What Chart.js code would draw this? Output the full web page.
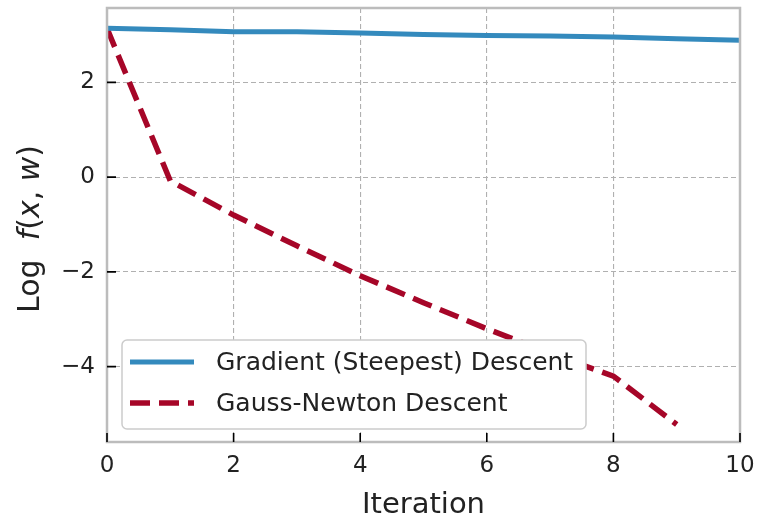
<!DOCTYPE html>
<html>
<head>
<meta charset="utf-8">
<script src="https://cdn.jsdelivr.net/npm/chart.js@4"></script>
<style>
  body { margin: 0; background: #fff; }
  #wrap { width: 757px; height: 520px; }
</style>
</head>
<body>
<div id="wrap"><canvas id="chart"></canvas></div>
<script>
// values
var iterations = [0, 1, 2, 3, 4, 5, 6, 7, 8, 9, 10];
var gradientDescent = [3.14, 3.11, 3.07, 3.07, 3.04, 3.01, 2.99, 2.98, 2.96, 2.92, 2.89];
var gaussNewton = [3.14, -0.08, -0.8, -1.45, -2.08, -2.65, -3.2, -3.72, -4.2, -5.22];
var xTicks = [0, 2, 4, 6, 8, 10];
var yTicks = [-4, -2, 0, 2];

var FONT = "'DejaVu Sans', sans-serif";
var BLUE = '#348ABD';
var RED = '#A60628';

function points(ys) {
    return ys.map((y, i) => ({ x: iterations[i], y: y }));
}

// frame, inward ticks, y title and legend box
var decorations = {
    id: 'decorations',
    afterDatasetsDraw(chart) {
        const ctx = chart.ctx;
        const area = chart.chartArea;
        const xs = chart.scales.x, ys = chart.scales.y;

        ctx.save();
        // frame
        ctx.strokeStyle = '#bcbcbc';
        ctx.lineWidth = 2.5;
        ctx.strokeRect(area.left, area.top, area.right - area.left, area.bottom - area.top);

        // inward ticks
        ctx.strokeStyle = '#000';
        ctx.lineWidth = 1.6;
        ctx.beginPath();
        xTicks.forEach(v => {
            const px = xs.getPixelForValue(v);
            ctx.moveTo(px, area.bottom);
            ctx.lineTo(px, area.bottom - 9);
        });
        yTicks.forEach(v => {
            const py = ys.getPixelForValue(v);
            ctx.moveTo(area.left, py);
            ctx.lineTo(area.left + 9, py);
        });
        ctx.stroke();

        // y axis title: Log f(x, w) with italic math letters
        const parts = [['Log  ', false], ['f', true], ['(', false], ['x', true], [', ', false], ['w', true], [')', false]];
        const size = 30;
        let total = 0;
        parts.forEach(p => {
            ctx.font = (p[1] ? 'italic ' : '') + size + 'px ' + FONT;
            total += ctx.measureText(p[0]).width;
        });
        ctx.translate(31, (area.top + area.bottom) / 2 + 4);
        ctx.rotate(-Math.PI / 2);
        ctx.fillStyle = '#222';
        ctx.textBaseline = 'middle';
        let cx = -total / 2;
        parts.forEach(p => {
            ctx.font = (p[1] ? 'italic ' : '') + size + 'px ' + FONT;
            ctx.fillText(p[0], cx, 0);
            cx += ctx.measureText(p[0]).width;
        });
        ctx.restore();

        // legend
        ctx.save();
        const bx = 122, by = 340, bw = 464, bh = 89;
        ctx.beginPath();
        if (ctx.roundRect) ctx.roundRect(bx, by, bw, bh, 5);
        else ctx.rect(bx, by, bw, bh);
        ctx.fillStyle = '#ffffff';
        ctx.fill();
        ctx.strokeStyle = '#cccccc';
        ctx.lineWidth = 1.5;
        ctx.stroke();

        ctx.font = '25px ' + FONT;
        ctx.textBaseline = 'middle';
        chart.data.datasets.forEach((ds, i) => {
            const ry = 362 + i * 41;
            ctx.strokeStyle = ds.borderColor;
            ctx.lineWidth = ds.borderWidth;
            ctx.setLineDash(ds.borderDash || []);
            ctx.lineCap = 'butt';
            ctx.beginPath();
            ctx.moveTo(130, ry);
            ctx.lineTo(194, ry);
            ctx.stroke();
            ctx.setLineDash([]);
            ctx.fillStyle = '#222';
            ctx.fillText(ds.label, 216, ry + 1);
        });
        ctx.restore();
    }
};

new Chart(document.getElementById('chart').getContext('2d'), {
    type: 'line',
    data: {
        datasets: [{
            label: 'Gradient (Steepest) Descent',
            data: points(gradientDescent),
            borderColor: BLUE,
            borderWidth: 5,
            pointRadius: 0,
            fill: false
        }, {
            label: 'Gauss-Newton Descent',
            data: points(gaussNewton),
            borderColor: RED,
            borderWidth: 5.5,
            borderDash: [20, 9],
            pointRadius: 0,
            fill: false
        }]
    },
    plugins: [decorations],
    options: {
        responsive: true,
        maintainAspectRatio: false,
        animation: false,
        events: [],
        layout: { padding: { top: 8, right: 17, left: 0, bottom: 0 } },
        plugins: {
            legend: { display: false },
            tooltip: { enabled: false }
        },
        scales: {
            x: {
                type: 'linear',
                min: 0,
                max: 10,
                afterFit: s => { s.height = 78; s.paddingLeft = 0; s.paddingRight = 0; },
                afterBuildTicks: s => { s.ticks = xTicks.map(v => ({ value: v })); },
                ticks: {
                    font: { family: FONT, size: 23 },
                    color: '#222',
                    padding: 10,
                    maxRotation: 0
                },
                grid: { color: '#b0b0b0', lineWidth: 1.1, drawTicks: false },
                border: { display: false, dash: [5, 3] },
                title: {
                    display: true,
                    text: 'Iteration',
                    color: '#222',
                    font: { family: FONT, size: 29, lineHeight: 1 },
                    padding: { top: 0, bottom: 0 }
                }
            },
            y: {
                min: -5.59,
                max: 3.57,
                afterFit: s => { s.width = 107; s.paddingTop = 0; s.paddingBottom = 0; },
                afterBuildTicks: s => { s.ticks = yTicks.map(v => ({ value: v })); },
                ticks: {
                    font: { family: FONT, size: 23 },
                    color: '#222',
                    padding: 12,
                    callback: v => String(v).replace('-', '\u2212')
                },
                grid: { color: '#b0b0b0', lineWidth: 1.1, drawTicks: false },
                border: { display: false, dash: [5, 3] }
            }
        }
    }
});
</script>
</body>
</html>
